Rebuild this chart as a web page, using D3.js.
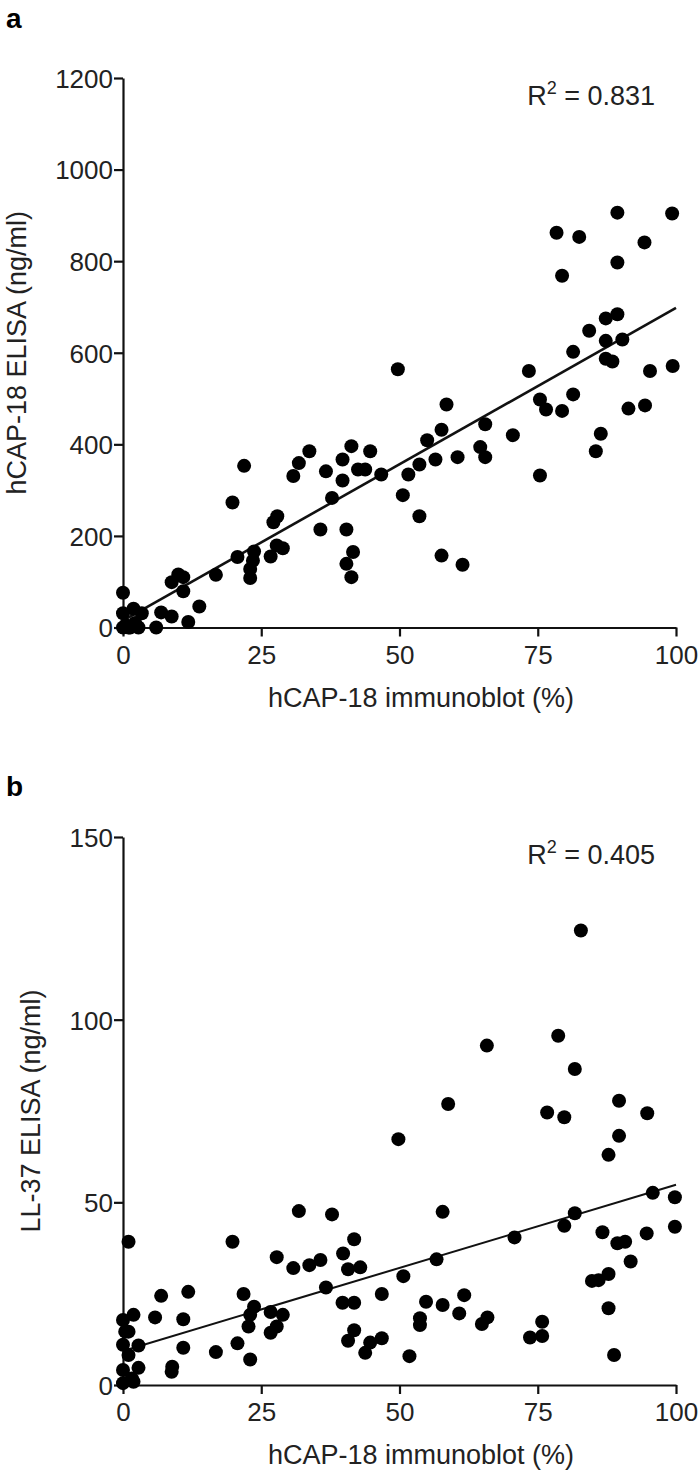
<!DOCTYPE html>
<html><head><meta charset="utf-8">
<script src="https://cdn.jsdelivr.net/npm/d3@7"></script>
<style>body{margin:0;background:#fff}svg{display:block}text{font-family:"Liberation Sans Narrow","Liberation Sans",Arial,sans-serif;fill:#222}</style>
</head><body>
<script>
// Panel a: hCAP-18 immunoblot (%) vs hCAP-18 ELISA (ng/ml)
const pointsA = [[0,76],[0,31],[0,0],[0.5,5],[1,0],[1.3,0],[1.9,41],[2.2,10],[2.8,0],[3.4,31],[6,0],[6.9,33],[8.8,24],[8.8,99],[10,116],[10.9,110],[10.9,79],[11.8,12],[13.8,46],[16.8,115],[19.8,273],[20.7,154],[21.9,353],[23,128],[23,108],[23.5,146],[23.7,166],[26.7,155],[27.2,230],[27.8,179],[27.9,243],[28.9,173],[30.8,331],[31.8,359],[33.7,385],[35.7,214],[36.7,341],[37.8,283],[39.7,367],[39.7,321],[40.4,214],[40.4,139],[41.3,396],[41.3,110],[41.6,165],[42.5,345],[43.8,345],[44.7,385],[46.7,334],[49.7,564],[50.6,289],[51.6,334],[53.6,243],[53.6,356],[55,409],[56.5,367],[57.6,432],[57.6,157],[58.5,487],[60.5,372],[61.4,137],[64.6,394],[65.5,444],[65.5,372],[70.5,420],[73.4,560],[75.4,498],[75.4,332],[76.5,476],[78.4,862],[79.4,768],[79.4,473],[81.4,602],[81.4,509],[82.5,853],[84.3,648],[85.5,385],[86.4,423],[87.3,675],[87.3,626],[87.3,587],[88.5,581],[89.4,906],[89.4,797],[89.4,684],[90.3,629],[91.4,478],[94.3,841],[94.4,485],[95.3,560],[99.3,904],[99.4,571]];
const fitA = [[0,15],[100,698]];
const r2A = "0.831";
const yTicksA = [0,200,400,600,800,1000,1200];

// Panel b: hCAP-18 immunoblot (%) vs LL-37 ELISA (ng/ml)
const pointsB = [[1,39.2],[1.9,19.2],[0,17.8],[1,14.6],[0,11],[2.8,10.8],[1,8.2],[2.8,4.7],[0,4.1],[1.9,0.9],[0,0.5],[1.6,1.8],[0.4,14.6],[5.8,18.5],[6.9,24.4],[8.8,3.6],[8.9,5],[10.9,18],[11.8,25.5],[10.9,10.2],[16.8,9],[19.8,39.2],[21.8,24.9],[20.7,11.4],[23,7],[23.7,21.4],[23,19.2],[22.7,16],[26.7,20],[27.8,16],[26.7,14.3],[28.9,19.2],[27.8,35],[30.8,32],[31.8,47.6],[33.7,32.8],[35.7,34.2],[36.7,26.7],[37.8,46.7],[39.8,36],[41.8,39.9],[40.7,31.7],[42.9,32.2],[39.7,22.5],[41.8,22.5],[46.8,24.9],[50.7,29.8],[56.7,34.4],[70.8,40.4],[79.8,43.6],[81.7,47],[95.8,52.6],[99.8,51.4],[99.8,43.3],[94.7,41.5],[86.7,41.8],[89.4,38.8],[90.8,39.2],[91.8,33.8],[84.8,28.5],[86,28.7],[87.8,30.4],[87.8,21],[88.8,8.2],[54.8,22.8],[57.8,21.9],[61.7,24.6],[60.8,19.6],[53.7,18.3],[53.7,16.4],[64.9,16.7],[65.9,18.5],[46.8,12.8],[44.7,11.6],[43.8,8.8],[41.8,15],[40.7,12.1],[51.8,7.9],[73.6,13],[75.8,13.4],[75.8,17.3],[49.8,67.3],[57.8,47.4],[58.8,76.9],[76.7,74.6],[79.8,73.3],[89.7,77.8],[89.7,68.2],[87.8,63],[94.8,74.4],[81.7,86.5],[82.8,124.4],[65.8,92.9],[78.7,95.6]];
const fitB = [[0,9.3],[100,54.8]];
const r2B = "0.405";
const yTicksB = [0,50,100,150];

const xTicks = [0,25,50,75,100];
const xTitle = "hCAP-18 immunoblot (%)";

const svg = d3.select("body").append("svg").attr("width",700).attr("height",1475);

function panel(cfg){
  const x = d3.scaleLinear().domain([0,100]).range([123,676]);
  const y = d3.scaleLinear().domain(cfg.yDomain).range(cfg.yRange);
  const g = svg.append("g");
  const ax = g.append("g").attr("transform",`translate(0,${cfg.yRange[0]})`)
    .call(d3.axisBottom(x).tickValues(xTicks).tickFormat(d3.format("d")).tickSize(9).tickSizeOuter(0).tickPadding(4));
  const ay = g.append("g").attr("transform",`translate(${x(0)},0)`)
    .call(d3.axisLeft(y).tickValues(cfg.yTicks).tickFormat(d3.format("d")).tickSize(9).tickSizeOuter(0).tickPadding(1));
  [ax,ay].forEach(a=>{
    a.selectAll("path").attr("stroke","#111").attr("stroke-width",2.2);
    a.selectAll("line").attr("stroke","#111").attr("stroke-width",2.2);
    a.selectAll("text").attr("font-size",26).attr("font-family","Liberation Sans Narrow, Liberation Sans, Arial, sans-serif").attr("fill","#222");
  });
  ax.selectAll("text").attr("dy","0.9em");
  ay.selectAll("text").attr("dy","0.36em");
  g.append("line")
    .attr("x1",x(cfg.fit[0][0])).attr("y1",y(cfg.fit[0][1]))
    .attr("x2",x(cfg.fit[1][0])).attr("y2",y(cfg.fit[1][1]))
    .attr("stroke","#111").attr("stroke-width",cfg.lw);
  g.selectAll("circle.pt").data(cfg.points).join("circle").attr("class","pt")
    .attr("cx",d=>x(d[0])).attr("cy",d=>y(d[1])).attr("r",7).attr("fill","#000");
  g.append("text").attr("x",421).attr("y",cfg.yRange[0]+79).attr("text-anchor","middle")
    .attr("font-size",27).text(xTitle);
  g.append("text").attr("transform",`translate(${cfg.yTitleX},${(cfg.yRange[0]+cfg.yRange[1])/2}) rotate(-90)`)
    .attr("text-anchor","middle").attr("font-size",27).text(cfg.yTitle);
  const r = g.append("text").attr("x",655).attr("y",cfg.yRange[1]+27).attr("text-anchor","end").attr("font-size",27);
  r.append("tspan").text("R");
  r.append("tspan").attr("font-size",18).attr("dy",-11).text("2");
  r.append("tspan").attr("dy",11).text(" = " + cfg.r2);
  svg.append("text").attr("x",6).attr("y",cfg.labelY).attr("font-size",28).attr("font-weight","bold").style("fill","#000").text(cfg.label);
}

panel({points:pointsA, fit:fitA, r2:r2A, yTicks:yTicksA, yDomain:[0,1200], yRange:[627.5,78],
  yTitle:"hCAP-18 ELISA (ng/ml)", yTitleX:26, lw:2.6, label:"a", labelY:28});
panel({points:pointsB, fit:fitB, r2:r2B, yTicks:yTicksB, yDomain:[0,150], yRange:[1385,837],
  yTitle:"LL-37 ELISA (ng/ml)", yTitleX:40, lw:2, label:"b", labelY:796});
</script>
</body></html>
